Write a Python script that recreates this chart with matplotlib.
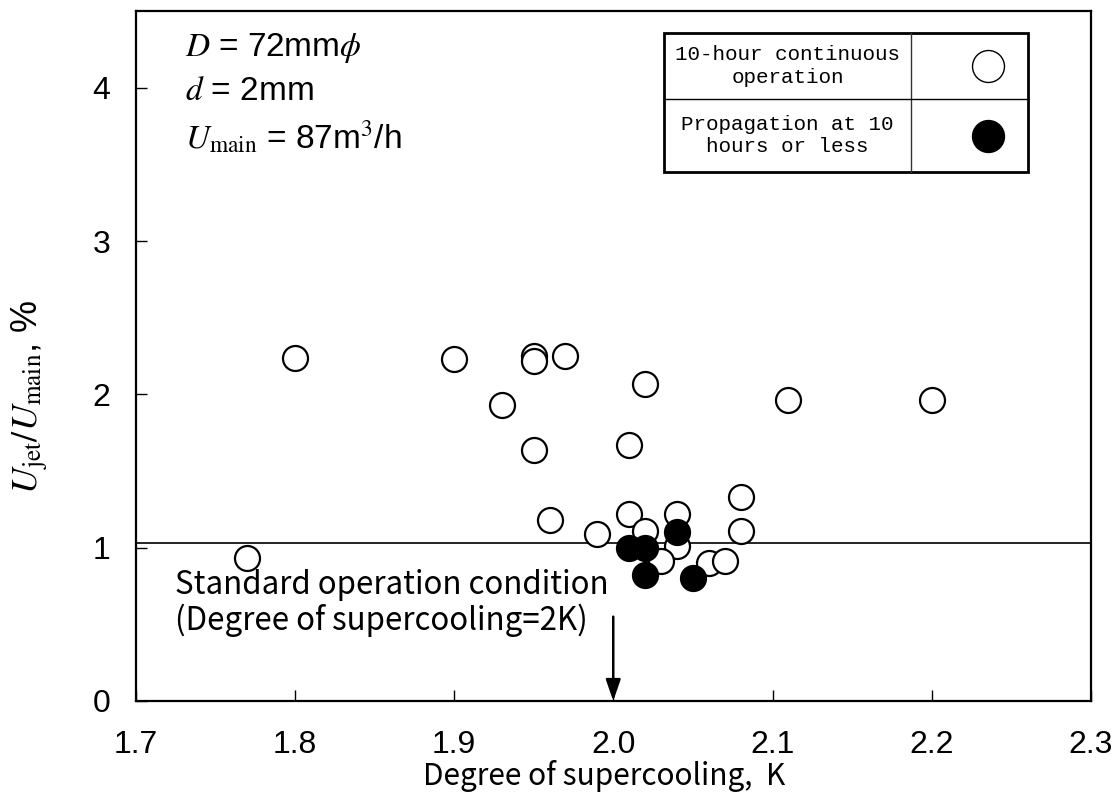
import matplotlib
matplotlib.use("Agg")
import matplotlib.pyplot as plt
from matplotlib.patches import Rectangle
from matplotlib.lines import Line2D

plt.rcParams['mathtext.fontset'] = 'stix'
plt.rcParams['font.family'] = ['Liberation Sans', 'DejaVu Sans']

# Data: 10-hour continuous operation (open circles)
open_x = [1.77, 1.80, 1.90, 1.95, 1.95, 1.97, 1.93, 1.95, 2.02, 2.01, 2.11, 2.20,
          1.96, 2.01, 1.99, 2.02, 2.04, 2.04, 2.03, 2.08, 2.08, 2.06, 2.07]
open_y = [0.93, 2.24, 2.23, 2.25, 2.22, 2.25, 1.93, 1.64, 2.07, 1.67, 1.96, 1.96,
          1.18, 1.22, 1.09, 1.11, 1.22, 1.01, 0.91, 1.33, 1.11, 0.90, 0.91]
# Propagation at 10 hours or less (filled circles)
fill_x = [2.01, 2.02, 2.04, 2.02, 2.05]
fill_y = [1.00, 1.00, 1.10, 0.82, 0.80]

ref_line_y = 1.03
arrow_x = 2.0

x_ticks = [1.7, 1.8, 1.9, 2.0, 2.1, 2.2, 2.3]
x_ticklabels = ['1.7', '1.8', '1.9', '2.0', '2.1', '2.2', '2.3']
y_ticks = [0, 1, 2, 3, 4]
y_ticklabels = ['0', '1', '2', '3', '4']

legend_labels = ['10-hour continuous\noperation', 'Propagation at 10\nhours or less']

fig = plt.figure(figsize=(11.13, 8.06), dpi=100)
ax = fig.add_axes([135.5 / 1113, 105 / 806, 955.5 / 1113, 690 / 806])

ax.axhline(ref_line_y, color='black', lw=1.2, zorder=1)

ax.plot(open_x, open_y, 'o', ms=18, mfc='white', mec='black', mew=1.6, ls='none', zorder=3)
ax.plot(fill_x, fill_y, 'o', ms=18, mfc='black', mec='black', mew=1.6, ls='none', zorder=4)

ax.set_xlim(1.7, 2.3)
ax.set_ylim(0, 4.5)
ax.set_xticks(x_ticks)
ax.set_xticklabels(x_ticklabels)
ax.set_yticks(y_ticks)
ax.set_yticklabels(y_ticklabels)
ax.tick_params(axis='both', direction='in', length=8, width=1.0, labelsize=23)
ax.tick_params(axis='x', pad=21)
ax.tick_params(axis='y', pad=18)
for sp in ax.spines.values():
    sp.set_linewidth(1.6)

fig.text(604 / 1113, 1 - 776 / 806, 'Degree of supercooling,  K', fontsize=21.5,
         family=['Noto Sans CJK JP', 'DejaVu Sans'], ha='center', va='center')
fig.text(30 / 1113, 1 - 397 / 806, r'$U_{\rm jet}/U_{\rm main}$, %', fontsize=26,
         rotation=90, ha='center', va='center')

# Annotation
ax.annotate('', xy=(arrow_x, 0.0), xytext=(arrow_x, 0.55),
            arrowprops=dict(arrowstyle='-|>,head_width=0.45,head_length=1.3',
                            color='black', lw=1.8, shrinkA=0, shrinkB=0))
ax.text(1.7245, 0.64, 'Standard operation condition\n(Degree of supercooling=2K)',
        fontsize=22.5, ha='left', va='center', linespacing=1.1,
        family=['Noto Sans CJK JP', 'DejaVu Sans'])

# Conditions text
ax.text(0.052, 0.946, r'$D$ = 72mm$\phi$', transform=ax.transAxes, fontsize=24, va='center', ha='left')
ax.text(0.052, 0.883, r'$d$ = 2mm', transform=ax.transAxes, fontsize=24, va='center', ha='left')
ax.text(0.052, 0.817, r'$U_{\rm main}$ = 87m$^3$/h', transform=ax.transAxes, fontsize=24, va='center', ha='left')

# Legend table (in axes coordinates)
def px2ax(px, py):
    return ((px - 135.5) / 955.5, (701 - py) / 690)

L, R, T, B, C, M = 664, 1028, 33, 172, 911, 99
x0, y0 = px2ax(L, B)
x1, y1 = px2ax(R, T)
xc, _ = px2ax(C, 0)
_, ym = px2ax(0, M)
ax.add_patch(Rectangle((x0, y0), x1 - x0, y1 - y0, transform=ax.transAxes,
                       facecolor='white', edgecolor='black', lw=2.0, zorder=5))
ax.add_line(Line2D([xc, xc], [y0, y1], transform=ax.transAxes, color='#333333', lw=1.0, zorder=6))
ax.add_line(Line2D([x0, x1], [ym, ym], transform=ax.transAxes, color='black', lw=1.0, zorder=6))
tx = (x0 + xc) / 2
mx, _ = px2ax(988, 0)
ax.text(tx, (y1 + ym) / 2, legend_labels[0], transform=ax.transAxes, fontsize=15,
        family='Liberation Mono', ha='center', va='center', linespacing=1.25, zorder=7)
ax.text(tx, (ym + y0) / 2, legend_labels[1], transform=ax.transAxes, fontsize=15,
        family='Liberation Mono', ha='center', va='center', linespacing=1.25, zorder=7)
ax.plot([mx], [(y1 + ym) / 2], 'o', ms=23, mfc='white', mec='black', mew=1.0,
        transform=ax.transAxes, zorder=7, clip_on=False)
ax.plot([mx], [(ym + y0) / 2], 'o', ms=23, mfc='black', mec='black', mew=1.0,
        transform=ax.transAxes, zorder=7, clip_on=False)

fig.savefig('out.png', dpi=100)
